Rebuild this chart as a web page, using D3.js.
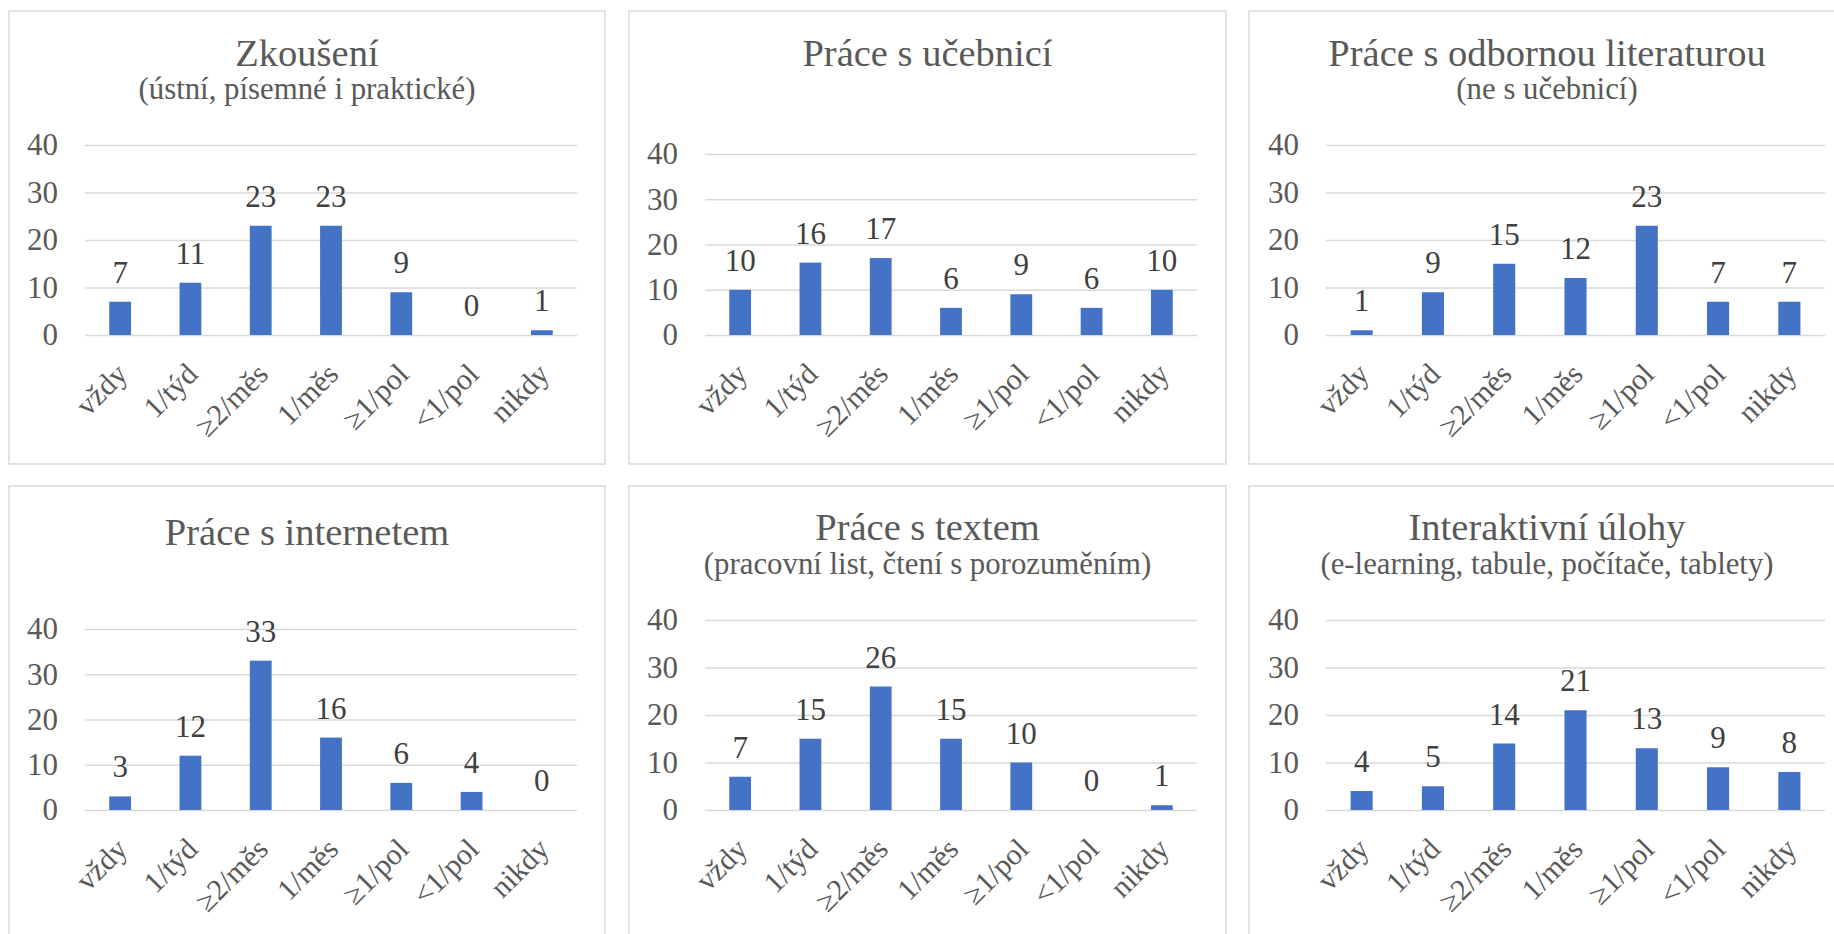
<!DOCTYPE html>
<html>
<head>
<meta charset="utf-8">
<script src="https://cdn.jsdelivr.net/npm/d3@7/dist/d3.min.js"></script>
<style>
  html, body { margin: 0; padding: 0; background: #ffffff; }
  svg { display: block; }
</style>
</head>
<body>
<svg id="chart" width="1834" height="934"></svg>
<script>
// ---------- DATA ----------
const categories = ["vždy", "1/týd", "≥2/měs", "1/měs", "≥1/pol", "<1/pol", "nikdy"];
const yTicks = [0, 10, 20, 30, 40];

const zkouseni     = [7, 11, 23, 23, 9, 0, 1];
const ucebnice     = [10, 16, 17, 6, 9, 6, 10];
const literatura   = [1, 9, 15, 12, 23, 7, 7];
const internet     = [3, 12, 33, 16, 6, 4, 0];
const textPrace    = [7, 15, 26, 15, 10, 0, 1];
const interaktivni = [4, 5, 14, 21, 13, 9, 8];

const titles = ["Zkoušení", "Práce s učebnicí", "Práce s odbornou literaturou",
                "Práce s internetem", "Práce s textem", "Interaktivní úlohy"];
const subtitles = ["(ústní, písemné i praktické)", "", "(ne s učebnicí)",
                   "", "(pracovní list, čtení s porozuměním)", "(e-learning, tabule, počítače, tablety)"];
const seriesList = [zkouseni, ucebnice, literatura, internet, textPrace, interaktivni];

// ---------- LAYOUT ----------
const FONT = '"Liberation Serif", "Times New Roman", serif';
const cols = [
  { x0: 9,    x1: 605,  gx0: 85,   gx1: 577 },
  { x0: 629,  x1: 1226, gx0: 705,  gx1: 1197 },
  { x0: 1249, x1: 1845, gx0: 1326, gx1: 1825 }
];
const rows = [ { y0: 11, y1: 464 }, { y0: 486, y1: 939 } ];
const titleDy = [55, 55, 55, 59, 54, 54];

const svg = d3.select("#chart");
const grey = "#595959";

seriesList.forEach((values, i) => {
  const c = cols[i % 3], r = rows[Math.floor(i / 3)];
  const hasSub = subtitles[i] !== "";
  const g = svg.append("g");

  g.append("rect")
    .attr("x", c.x0).attr("y", r.y0)
    .attr("width", c.x1 - c.x0).attr("height", r.y1 - r.y0)
    .attr("fill", "#ffffff").attr("stroke", "#d9d9d9").attr("stroke-width", 1.5);

  const cx = (c.x0 + c.x1) / 2;
  g.append("text").attr("x", cx).attr("y", r.y0 + titleDy[i])
    .attr("text-anchor", "middle").style("font-family", FONT).style("font-size", "38.5px")
    .attr("fill", grey).text(titles[i]);
  if (hasSub) {
    g.append("text").attr("x", cx).attr("y", r.y0 + 88)
      .attr("text-anchor", "middle").style("font-family", FONT).style("font-size", "30.8px")
      .attr("fill", grey).text(subtitles[i]);
  }

  const y0 = r.y0 + 324;
  const y40 = r.y0 + (hasSub ? 134 : 143);
  const y = d3.scaleLinear().domain([0, 40]).range([y0, y40]);
  const x = d3.scaleBand().domain(categories).range([c.gx0, c.gx1])
    .paddingInner(0.69).paddingOuter(0.345);

  // y axis + gridlines
  const ya = g.append("g").attr("transform", `translate(${c.gx0},0)`)
    .call(d3.axisLeft(y).tickValues(yTicks).tickSize(-(c.gx1 - c.gx0)).tickPadding(27).tickFormat(d3.format("d")));
  ya.select(".domain").remove();
  ya.selectAll(".tick line").attr("stroke", "#d9d9d9").attr("stroke-width", 1.5);
  ya.selectAll(".tick text").style("font-family", FONT).style("font-size", "31px").attr("fill", grey);

  // bars
  g.selectAll(".bar").data(values).enter().append("rect")
    .attr("x", (d, k) => x(categories[k]))
    .attr("y", d => y(d))
    .attr("width", x.bandwidth())
    .attr("height", d => y(0) - y(d))
    .attr("fill", "#4472c4");

  // data labels
  g.selectAll(".lbl").data(values).enter().append("text")
    .attr("x", (d, k) => x(categories[k]) + x.bandwidth() / 2)
    .attr("y", d => y(d) - 19)
    .attr("text-anchor", "middle").style("font-family", FONT).style("font-size", "31px")
    .attr("fill", "#404040").text(d => d);

  // x axis labels
  const xa = g.append("g").attr("transform", `translate(0,${y0})`)
    .call(d3.axisBottom(x).tickSize(0));
  xa.select(".domain").remove();
  xa.selectAll(".tick text")
    .style("font-family", FONT).style("font-size", "30px").attr("fill", grey)
    .attr("text-anchor", "end")
    .attr("x", 0).attr("y", 0).attr("dy", 0)
    .attr("transform", "translate(9,41) rotate(-45)");
});
</script>
</body>
</html>
